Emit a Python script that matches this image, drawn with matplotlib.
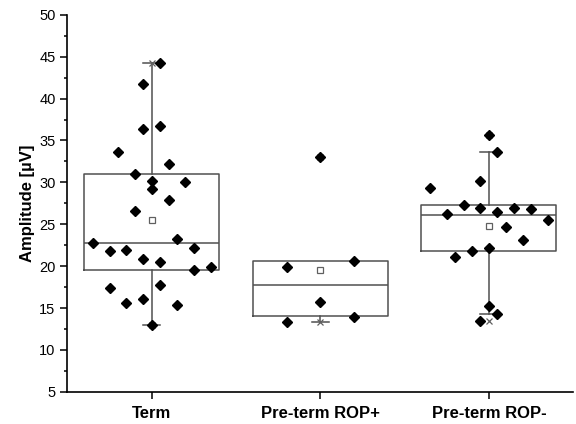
import matplotlib.pyplot as plt
from matplotlib.ticker import MultipleLocator

plt.rcParams.update({
    'font.family': ['Liberation Sans', 'DejaVu Sans'],
    'font.size': 10,
})

categories = ['Term', 'Pre-term ROP+', 'Pre-term ROP-']

# values, with the horizontal jitter (in units of 0.05)
term_vals = [44.3, 41.7, 36.4, 36.7, 33.65, 32.2, 31.0, 30.2, 30.1, 29.2, 27.9, 26.6,
             22.8, 23.2, 21.8, 21.9, 20.8, 20.5, 22.2, 19.5, 19.95, 17.4, 17.8,
             15.6, 16.1, 15.3, 13.0]
term_jit = [1, -1, -1, 1, -4, 2, -2, 0, 4, 0, 2, -2,
            -7, 3, -5, -3, -1, 1, 5, 5, 7, -5, 1,
            -3, -1, 3, 0]
ropp_vals = [33.0, 19.95, 20.6, 15.7, 13.3, 13.9]
ropp_jit = [0, -4, 4, 0, -4, 4]
ropm_vals = [35.6, 33.6, 30.2, 29.3, 27.3, 26.95, 26.2, 26.5, 26.9, 26.8, 25.5,
             24.7, 23.1, 22.2, 21.8, 21.1, 15.2, 14.3, 13.4]
ropm_jit = [0, 1, -1, -7, -3, -1, -5, 1, 3, 5, 7,
            2, 4, 0, -2, -4, 0, 1, -1]

# box statistics as drawn
q1 = [19.5, 14.0, 21.77]
med = [22.76, 17.8, 26.16]
q3 = [31.0, 20.66, 27.24]
whislo = [13.0, 13.3, 14.3]
whishi = [44.3, 20.66, 33.58]
means = [25.5, 19.5, 24.76]
mins = [13.0, 13.3, 13.43]
maxs = [44.3, 33.0, 35.6]

fig = plt.figure(figsize=(5.76, 4.24), dpi=100)
ax = fig.add_axes([0.117, 0.076, 0.878, 0.889])

stats = []
for i in range(3):
    stats.append({'q1': q1[i], 'med': med[i], 'q3': q3[i],
                  'whislo': whislo[i], 'whishi': whishi[i], 'fliers': []})

line_c = '#505050'
bp = ax.bxp(stats, positions=[1, 2, 3], widths=0.8, showfliers=False, capwidths=0.1,
            boxprops=dict(color=line_c, lw=1.1),
            medianprops=dict(color=line_c, lw=1.1),
            whiskerprops=dict(color=line_c, lw=1.1),
            capprops=dict(color=line_c, lw=1.1))
# no upper whisker on the ROP+ box
bp['caps'][3].set_visible(False)

ax.plot([1, 2, 3], means, 's', ms=4, mfc='white', mec='#606060', mew=0.9, zorder=4)
ax.plot([1, 2, 3], mins, 'x', ms=4, color='#606060', mew=0.9, zorder=4)
ax.plot([1, 2, 3], maxs, 'x', ms=4, color='#606060', mew=0.9, zorder=4)

for pos, vals, jit in [(1, term_vals, term_jit), (2, ropp_vals, ropp_jit), (3, ropm_vals, ropm_jit)]:
    xs = [pos + 0.05 * j for j in jit]
    ax.plot(xs, vals, 'D', ms=5, color='black', zorder=5)

ax.set_xlim(0.5, 3.5)
ax.set_ylim(5, 50)
ax.yaxis.set_major_locator(MultipleLocator(5))
ax.yaxis.set_minor_locator(MultipleLocator(2.5))
ax.set_xticks([1, 2, 3])
ax.set_xticklabels(categories, fontweight='bold', fontsize=12)
ax.tick_params(axis='both', direction='out', width=1.1, length=5)
ax.tick_params(axis='y', which='minor', direction='out', width=1.1, length=2.5)
ax.tick_params(axis='x', pad=5)
ax.tick_params(axis='y', labelsize=10.5)
ax.set_ylabel('Amplitude [\u00b5V]', fontweight='bold', fontsize=12, labelpad=3)

for s in ['top', 'right']:
    ax.spines[s].set_visible(False)
for s in ['left', 'bottom']:
    ax.spines[s].set_linewidth(1.2)

fig.savefig('out.png', dpi=100)
